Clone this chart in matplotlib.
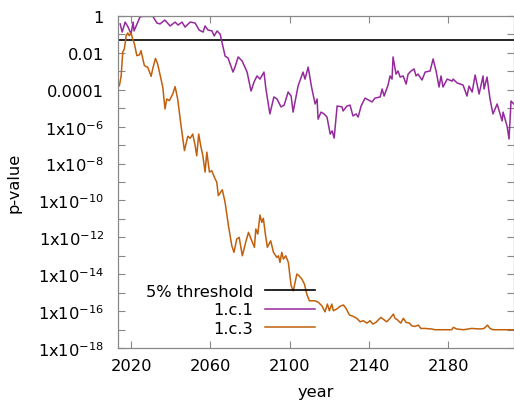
import matplotlib
matplotlib.use("Agg")
import matplotlib.pyplot as plt
import numpy as np
from matplotlib.ticker import FixedLocator, FuncFormatter

# ---- data (log10 of p-value) ----
years_c1 = [2014.5, 2015.5, 2017.0, 2018.5, 2020.0, 2021.0, 2021.5, 2023.0, 2024.5, 2026.0,
            2028.5, 2031.0, 2033.0, 2034.6, 2037.0, 2039.7, 2042.2, 2043.7, 2045.7, 2047.2,
            2049.8, 2052.3, 2054.3, 2056.3, 2057.3, 2058.8, 2060.8, 2061.9, 2063.4, 2064.9,
            2067.4, 2068.9, 2071.4, 2072.4, 2074.0, 2076.0, 2078.5, 2080.5, 2082.0, 2083.5,
            2085.0, 2087.0, 2088.0, 2090.0, 2092.0, 2093.6, 2095.6, 2097.2, 2099.2, 2100.7,
            2101.7, 2104.2, 2106.7, 2107.7, 2109.3, 2111.0, 2112.8, 2113.8, 2114.3, 2115.8,
            2117.3, 2118.8, 2120.4, 2121.4, 2122.4, 2123.9, 2126.4, 2126.9, 2128.9, 2130.4,
            2131.9, 2133.5, 2134.5, 2136.0, 2138.0, 2141.5, 2143.0, 2145.6, 2146.6, 2147.6,
            2149.6, 2150.6, 2151.6, 2152.1, 2153.6, 2154.6, 2155.7, 2157.2, 2158.7, 2159.7,
            2161.2, 2162.7, 2163.7, 2164.7, 2166.7, 2168.3, 2170.8, 2172.3, 2173.8, 2175.3,
            2176.3, 2177.3, 2179.4, 2181.9, 2182.4, 2184.4, 2187.4, 2189.4, 2190.4, 2192.0,
            2193.5, 2195.5, 2197.5, 2198.0, 2199.5, 2201.0, 2202.5, 2204.6, 2207.1, 2207.6,
            2209.6, 2210.6, 2211.6, 2213.0]
logp_c1 = [-0.43, -0.87, -0.33, -0.60, -0.98, -0.33, -0.81, -0.43, -0.05, -0.02,
           -0.02, -0.02, -0.38, -0.43, -0.22, -0.54, -0.33, -0.49, -0.33, -0.60,
           -0.33, -0.38, -0.76, -0.87, -0.54, -0.76, -0.81, -1.08, -0.81, -0.98,
           -2.17, -2.28, -3.04, -2.77, -2.22, -2.44, -3.04, -4.07, -3.58, -3.25,
           -3.42, -3.04, -3.96, -5.31, -4.39, -4.50, -4.93, -4.83, -4.12, -4.34,
           -5.21, -3.80, -3.04, -3.42, -2.77, -3.85, -4.77, -4.50, -5.59, -5.21,
           -5.31, -5.48, -6.40, -6.23, -6.62, -4.88, -4.93, -5.15, -4.88, -4.83,
           -5.42, -5.31, -5.48, -4.88, -4.45, -4.66, -4.45, -4.39, -3.96, -4.34,
           -3.74, -3.25, -3.42, -2.22, -3.15, -2.98, -3.31, -3.25, -3.69, -3.15,
           -2.98, -2.87, -3.25, -3.15, -3.47, -3.04, -2.98, -2.33, -2.98, -3.85,
           -3.25, -3.85, -3.42, -3.53, -3.42, -3.63, -3.74, -4.34, -3.80, -4.12,
           -3.20, -4.23, -3.25, -3.96, -3.31, -4.50, -5.31, -4.77, -5.69, -5.21,
           -5.97, -6.67, -4.61, -4.77]

years_c3 = [2014.1, 2015.0, 2015.8, 2016.6, 2017.5, 2018.3, 2019.1, 2020.0, 2020.8, 2021.7,
            2022.9, 2024.2, 2025.0, 2026.7, 2028.4, 2030.1, 2030.9, 2032.3, 2033.4, 2035.1,
            2036.0, 2037.1, 2038.0, 2039.3, 2041.0, 2042.2, 2043.5, 2045.2, 2046.9, 2048.6,
            2049.8, 2051.1, 2052.3, 2053.1, 2054.1, 2055.1, 2056.2, 2057.3, 2058.2, 2059.5,
            2060.7, 2062.4, 2063.2, 2064.0, 2066.0, 2067.4, 2069.1, 2070.8, 2071.9, 2073.3,
            2074.5, 2076.1, 2077.8, 2079.2, 2080.5, 2082.2, 2082.9, 2083.9, 2085.0, 2085.9,
            2086.7, 2087.6, 2088.7, 2089.6, 2090.4, 2091.8, 2093.5, 2094.3, 2095.1, 2096.0,
            2096.8, 2098.0, 2099.3, 2100.7, 2101.8, 2103.6, 2104.7, 2106.1, 2107.4, 2108.6,
            2109.9, 2111.1, 2112.8, 2114.5, 2116.2, 2117.8, 2119.0, 2120.0, 2121.2, 2122.0,
            2123.7, 2125.4, 2127.1, 2128.4, 2130.1, 2132.1, 2133.8, 2135.5, 2137.1, 2138.9,
            2140.5, 2141.9, 2143.5, 2144.7, 2146.0, 2147.6, 2148.9, 2150.6, 2152.3, 2153.1,
            2154.3, 2156.0, 2157.3, 2158.7, 2160.3, 2161.6, 2163.2, 2164.9, 2166.1, 2168.3,
            2171.6, 2173.3, 2181.7, 2182.5, 2184.2, 2187.6, 2191.8, 2196.0, 2198.0, 2199.7,
            2201.0, 2202.6, 2213.0]
logp_c3 = [-3.78, -3.24, -1.95, -1.79, -1.07, -0.92, -1.07, -0.92, -1.25, -1.52,
           -2.15, -2.11, -1.88, -2.69, -2.78, -3.27, -2.87, -2.30, -2.60, -3.42,
           -3.87, -5.04, -4.50, -4.59, -4.23, -3.83, -4.50, -5.95, -7.30, -6.52,
           -6.63, -6.40, -7.03, -7.58, -6.40, -7.03, -7.58, -8.46, -7.38, -8.46,
           -8.39, -8.84, -9.00, -9.74, -9.42, -10.10, -11.37, -12.46, -12.81, -12.09,
           -12.00, -13.00, -12.27, -11.73, -12.09, -12.54, -11.55, -11.82, -10.79, -11.19,
           -10.97, -11.73, -12.54, -12.36, -12.19, -12.81, -13.09, -13.00, -13.36, -12.81,
           -13.18, -13.00, -13.36, -14.62, -14.90, -13.99, -14.08, -14.26, -14.53, -15.08,
           -15.44, -15.44, -15.44, -15.53, -15.71, -16.04, -15.62, -15.98, -15.62, -15.98,
           -15.89, -15.74, -15.67, -15.85, -16.21, -16.29, -16.39, -16.58, -16.52, -16.65,
           -16.52, -16.70, -16.61, -16.47, -16.34, -16.47, -16.58, -16.39, -16.16, -16.39,
           -16.47, -16.65, -16.39, -16.61, -16.65, -16.80, -16.83, -16.76, -16.94, -16.94,
           -16.97, -17.01, -17.01, -16.88, -16.97, -17.01, -16.94, -16.97, -16.94, -16.76,
           -16.94, -17.01, -17.01]

threshold = 0.05
labels = ["5% threshold", "1.c.1", "1.c.3"]
xticks = [2020, 2060, 2100, 2140, 2180]
ytick_exps = list(range(-18, 1))

purple = "#942a9c"
orange = "#c0600c"
fs = 11.7

fig = plt.figure(figsize=(5.14, 4.06), dpi=100)
ax = fig.add_axes([118/514, 57/406, 396/514, 332/406])

ax.axhline(threshold, color="black", lw=1.2, label=labels[0])
ax.plot(years_c1, 10.0 ** np.array(logp_c1), color=purple, lw=1.1, label=labels[1])
ax.plot(years_c3, 10.0 ** np.array(logp_c3), color=orange, lw=1.1, label=labels[2])

ax.set_yscale("log")
ax.set_ylim(1e-18, 1)
ax.set_xlim(2013.4, 2213.1)

ax.xaxis.set_major_locator(FixedLocator(xticks))
ax.yaxis.set_major_locator(FixedLocator([10.0 ** e for e in ytick_exps]))
ax.yaxis.set_minor_locator(FixedLocator([]))

def yfmt(v, pos):
    e = int(round(np.log10(v)))
    if e % 2:
        return ""
    if e == 0:
        return "1"
    if e == -2:
        return "0.01"
    if e == -4:
        return "0.0001"
    return r"1x10$^{%d}$" % e

ax.yaxis.set_major_formatter(FuncFormatter(yfmt))
ax.tick_params(axis="both", which="both", direction="in", length=5, width=0.8,
               color="#888888", top=True, right=True, labelsize=fs)
ax.tick_params(axis="y", pad=10)
ax.tick_params(axis="x", pad=7)
for s in ax.spines.values():
    s.set_color("#888888")
    s.set_linewidth(0.9)

ax.set_xlabel("year", fontsize=fs, labelpad=8)
ax.set_ylabel("p-value", fontsize=fs, labelpad=12)

leg = ax.legend(loc="lower right", bbox_to_anchor=(197/396, 12/332), frameon=False,
                markerfirst=False, fontsize=fs, handlelength=3.1, handletextpad=0.7,
                labelspacing=0.22, borderpad=0, borderaxespad=0)
for t in leg.get_texts():
    t.set_ha("right")

fig.savefig("out.png", dpi=100)
